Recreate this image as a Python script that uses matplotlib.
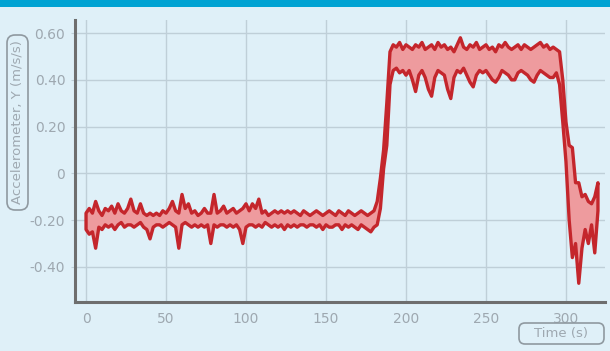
import matplotlib
matplotlib.use("Agg")
import matplotlib.pyplot as plt
from matplotlib.patches import FancyBboxPatch, Rectangle
import numpy as np

# time (s), sampled every 2 s
time_s = list(range(0, 322, 2))

# upper / lower edge of the red trace (m/s/s)
upper = [
    -0.17, -0.15, -0.17, -0.12, -0.16, -0.18, -0.15, -0.16, -0.14, -0.17,
    -0.13, -0.16, -0.17, -0.15, -0.11, -0.16, -0.17, -0.13, -0.17, -0.18,
    -0.17, -0.18, -0.17, -0.18, -0.16, -0.17, -0.15, -0.12, -0.16, -0.17,
    -0.09, -0.15, -0.13, -0.17, -0.16, -0.18, -0.17, -0.15, -0.17, -0.17,
    -0.09, -0.17, -0.16, -0.14, -0.17, -0.16, -0.15, -0.17, -0.16, -0.15,
    -0.13, -0.16, -0.13, -0.15, -0.11, -0.17, -0.16, -0.18, -0.17, -0.16,
    -0.17, -0.16, -0.17, -0.16, -0.17, -0.16, -0.17, -0.18, -0.16, -0.17,
    -0.18, -0.17, -0.16, -0.17, -0.18, -0.17, -0.16, -0.17, -0.18, -0.16,
    -0.17, -0.18, -0.16, -0.17, -0.18, -0.17, -0.16, -0.17, -0.18, -0.17,
    -0.16, -0.12, -0.02, 0.10, 0.30, 0.52, 0.55, 0.54, 0.56, 0.53,
    0.55, 0.54, 0.53, 0.55, 0.54, 0.56, 0.53, 0.54, 0.55, 0.53,
    0.56, 0.54, 0.55, 0.53, 0.54, 0.52, 0.55, 0.58, 0.54, 0.53,
    0.55, 0.54, 0.56, 0.53, 0.54, 0.55, 0.53, 0.54, 0.52, 0.55,
    0.54, 0.56, 0.54, 0.53, 0.54, 0.55, 0.53, 0.55, 0.54, 0.53,
    0.54, 0.55, 0.56, 0.54, 0.55, 0.53, 0.54, 0.53, 0.52, 0.40,
    0.22, 0.12, 0.11, -0.04, -0.04, -0.10, -0.09, -0.12, -0.13, -0.10,
    -0.04,
]
lower = [
    -0.24, -0.26, -0.25, -0.32, -0.23, -0.24, -0.22, -0.23, -0.22, -0.24,
    -0.22, -0.21, -0.23, -0.22, -0.22, -0.23, -0.22, -0.21, -0.23, -0.24,
    -0.28, -0.23, -0.22, -0.22, -0.23, -0.22, -0.21, -0.22, -0.23, -0.32,
    -0.22, -0.21, -0.22, -0.23, -0.22, -0.23, -0.22, -0.23, -0.22, -0.30,
    -0.22, -0.23, -0.22, -0.22, -0.23, -0.22, -0.23, -0.22, -0.24, -0.30,
    -0.23, -0.22, -0.22, -0.23, -0.22, -0.23, -0.21, -0.22, -0.23, -0.22,
    -0.23, -0.22, -0.24, -0.22, -0.23, -0.22, -0.23, -0.22, -0.22, -0.23,
    -0.22, -0.22, -0.23, -0.22, -0.24, -0.22, -0.23, -0.23, -0.22, -0.22,
    -0.24, -0.22, -0.23, -0.22, -0.23, -0.24, -0.22, -0.23, -0.24, -0.25,
    -0.23, -0.22, -0.15, 0.02, 0.12, 0.38, 0.44, 0.45, 0.43, 0.44,
    0.42, 0.44, 0.40, 0.35, 0.42, 0.44, 0.41, 0.36, 0.33, 0.41,
    0.44, 0.43, 0.42, 0.36, 0.32, 0.41, 0.44, 0.43, 0.45, 0.42,
    0.39, 0.37, 0.42, 0.44, 0.43, 0.44, 0.42, 0.40, 0.39, 0.41,
    0.44, 0.43, 0.42, 0.40, 0.40, 0.43, 0.44, 0.43, 0.42, 0.40,
    0.39, 0.42, 0.44, 0.43, 0.42, 0.41, 0.41, 0.43, 0.38, 0.22,
    0.05, -0.20, -0.36, -0.30, -0.47, -0.32, -0.24, -0.30, -0.22, -0.34,
    -0.16,
]

y_ticks = [-0.40, -0.20, 0, 0.20, 0.40, 0.60]
y_ticklabels = ["-0.40", "-0.20", "0", "0.20", "0.40", "0.60"]
x_ticks = [0, 50, 100, 150, 200, 250, 300]

bg = "#dff0f8"
dark_red = "#c4262c"
pink = "#ee9b9e"
grid_c = "#bfcfd8"
label_c = "#9ea8b0"

fig = plt.figure(figsize=(6.10, 3.51), dpi=100, facecolor=bg)

# blue band along the top
fig.patches.append(Rectangle((0, 1 - 7 / 351), 1, 7 / 351, transform=fig.transFigure,
                             facecolor="#00a3d3", edgecolor="none"))

ax = fig.add_axes([75 / 610, 1 - 302 / 351, 530 / 610, 282 / 351])
ax.set_facecolor(bg)

# closed outline round the band: upper edge forward, lower edge back
t = np.array(time_s)
band_x = np.concatenate([t, t[::-1]])
band_y = np.concatenate([upper, lower[::-1]])
ax.fill(band_x, band_y, facecolor=pink, edgecolor=dark_red, lw=2.4,
        joinstyle="round", zorder=3)

ax.set_xlim(-6.9, 324.4)
ax.set_ylim(-0.55, 0.656)
ax.set_xticks(x_ticks)
ax.set_yticks(y_ticks)
ax.set_yticklabels(y_ticklabels)
ax.grid(True, color=grid_c, lw=1)
ax.set_axisbelow(True)

for side in ["top", "right"]:
    ax.spines[side].set_visible(False)
for side in ["left", "bottom"]:
    ax.spines[side].set_color("#6e6e6e")
    ax.spines[side].set_linewidth(2.2)

ax.tick_params(axis="y", length=3, color=grid_c, labelsize=10, labelcolor=label_c, pad=4)
ax.tick_params(axis="x", length=0, labelsize=10, labelcolor=label_c, pad=7)

# rounded label boxes
inch = fig.dpi_scale_trans
fig.patches.append(FancyBboxPatch((0.07, 1.41), 0.21, 1.75, boxstyle="round,pad=0,rounding_size=0.08",
                                  transform=inch, facecolor="none", edgecolor="#8f99a0", lw=1.2))
fig.text(0.175, 2.285, "Accelerometer, Y (m/s/s)", transform=inch, rotation=90,
         ha="center", va="center", fontsize=9.5, color=label_c)

fig.patches.append(FancyBboxPatch((5.19, 0.07), 0.85, 0.21, boxstyle="round,pad=0,rounding_size=0.06",
                                  transform=inch, facecolor="none", edgecolor="#8f99a0", lw=1.2))
fig.text(5.615, 0.175, "Time (s)", transform=inch, ha="center", va="center",
         fontsize=9.5, color=label_c)

fig.savefig("out.png", dpi=100, facecolor=bg)
